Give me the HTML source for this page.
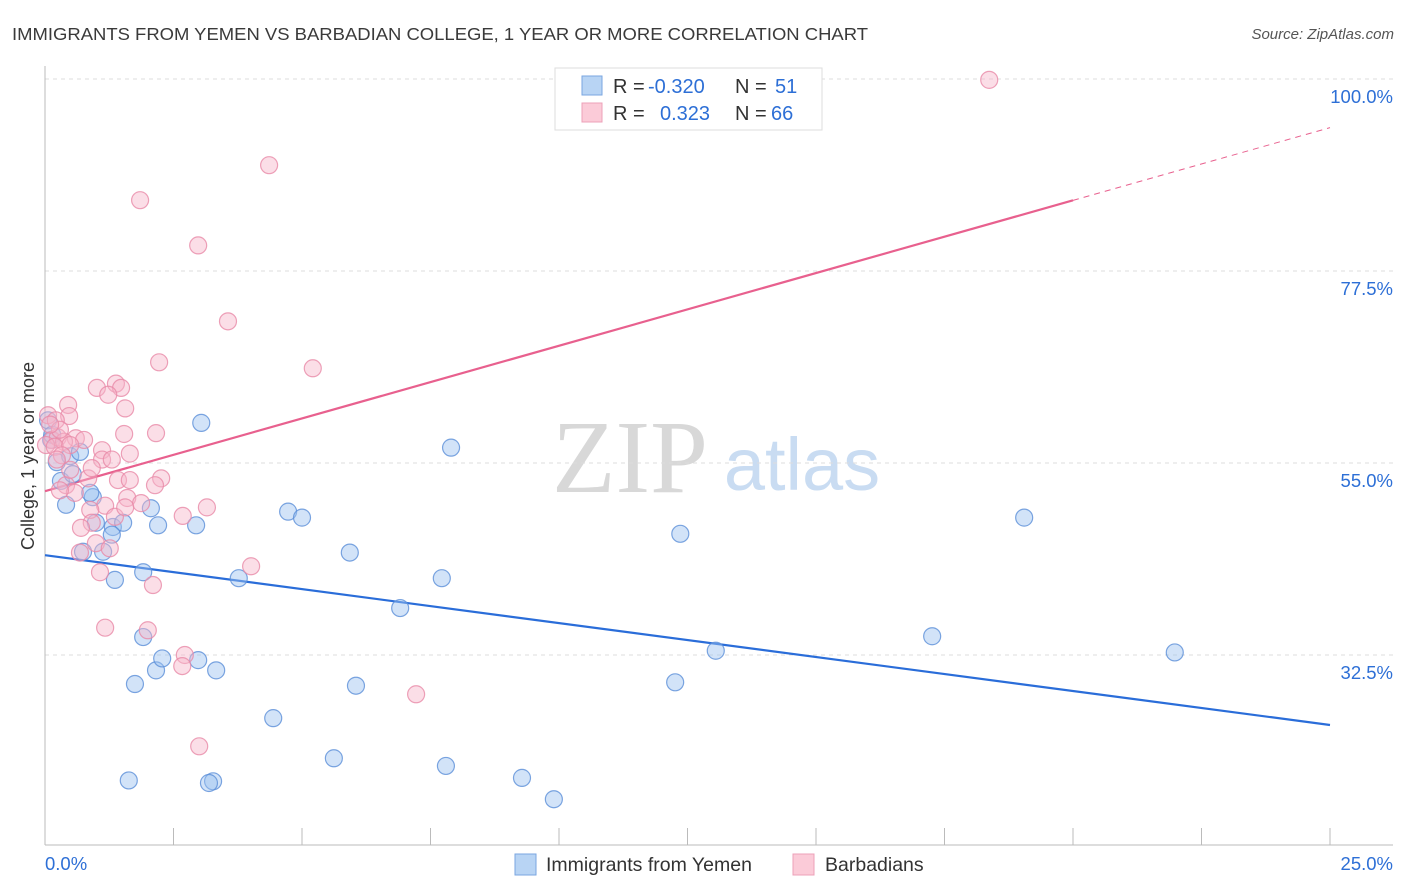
<!DOCTYPE html>
<html><head><meta charset="utf-8"><style>
body{margin:0;background:#fff;font-family:"Liberation Sans",sans-serif}
svg{display:block}
</style></head><body>
<svg id="chart" width="1406" height="892">
<text x="12" y="40" font-size="17.5" fill="#3a3a3a" textLength="856" lengthAdjust="spacingAndGlyphs">IMMIGRANTS FROM YEMEN VS BARBADIAN COLLEGE, 1 YEAR OR MORE CORRELATION CHART</text>
<text x="1394" y="39" font-size="15" fill="#555" font-style="italic" text-anchor="end">Source: ZipAtlas.com</text>
<g>
<text x="630" y="492" font-size="104" font-family="Liberation Serif,serif" fill="#d8d8d8" text-anchor="middle">ZIP</text>
<text x="802" y="490" font-size="74" fill="#c9dcf2" text-anchor="middle">atlas</text>
</g>
<g id="grid"></g>
<g id="axes"></g>
<g id="lines"></g>
<g id="pts"></g>
<text transform="translate(34,456) rotate(-90)" font-size="18" fill="#333" text-anchor="middle">College, 1 year or more</text>
<g>
<rect x="555" y="68" width="267" height="62" fill="#fff" stroke="#ddd"/>
<rect x="582" y="76" width="20" height="19" fill="#b8d4f4" stroke="#7aa6e0"/>
<rect x="582" y="103" width="20" height="19" fill="#fbcbd8" stroke="#eca0b8"/>
<text x="613" y="93" font-size="20" fill="#333">R = <tspan x="648" fill="#2d6fd6">-0.320</tspan></text>
<text x="735" y="93" font-size="20" fill="#333">N = <tspan x="775" fill="#2d6fd6">51</tspan></text>
<text x="613" y="120" font-size="20" fill="#333">R = <tspan x="660" fill="#2d6fd6">0.323</tspan></text>
<text x="735" y="120" font-size="20" fill="#333">N = <tspan x="771" fill="#2d6fd6">66</tspan></text>
</g>
<g>
<rect x="515" y="854" width="21" height="21" fill="#b8d4f4" stroke="#7aa6e0"/>
<text x="546" y="871" font-size="19.5" fill="#333">Immigrants from Yemen</text>
<rect x="793" y="854" width="21" height="21" fill="#fbcbd8" stroke="#eca0b8"/>
<text x="825" y="871" font-size="19.5" fill="#333">Barbadians</text>
</g>
</svg>
<script>
const blueX=[3.04,7.90,19.05,12.36,4.73,5.0,5.93,7.72,6.91,3.77,17.26,13.05,21.98,12.26,6.05,4.44,5.62,7.80,9.28,9.90,1.63,3.27,3.19,1.75,2.16,2.28,2.98,3.33,1.91,1.91,1.36,1.13,0.74,1.32,1.52,0.99,1.30,2.20,2.94,2.06,0.41,0.93,0.88,0.31,0.54,0.23,0.49,0.68,0.12,0.06,0.14];
const blueY=[59.7,56.8,48.6,46.7,49.3,48.6,44.5,41.5,38.0,41.5,34.7,33.0,32.8,29.3,28.9,25.1,20.4,19.5,18.1,15.6,17.8,17.7,17.5,29.1,30.7,32.1,31.9,30.7,34.6,42.2,41.3,44.6,44.6,47.5,48.0,48.0,46.6,47.7,47.7,49.7,50.1,51.0,51.5,52.9,53.7,55.1,55.8,56.3,57.7,60.0,58.3];
const pinkX=[18.37,4.36,1.85,2.98,3.56,5.21,2.22,1.01,1.38,1.48,1.56,0.45,0.47,0.06,1.54,2.16,0.14,0.25,0.60,0.76,0.37,0.02,0.19,1.11,1.65,1.11,1.42,2.26,0.84,0.41,0.58,1.60,2.14,2.68,3.15,1.17,0.88,1.87,1.36,1.56,0.91,0.70,0.99,1.26,0.68,4.01,1.07,2.10,1.17,2.00,2.72,2.67,7.22,3.00,0.21,0.29,0.49,0.91,0.29,1.65,1.30,0.49,1.23,0.33,0.23,0.10];
const pinkY=[99.9,89.9,85.8,80.5,71.6,66.1,66.8,63.8,64.3,63.8,61.4,61.8,60.5,60.6,58.4,58.5,57.7,58.0,57.9,57.7,57.5,57.1,56.9,56.5,56.1,55.4,53.0,53.2,53.2,52.4,51.5,50.9,52.4,48.8,49.8,50.0,49.5,50.3,48.7,49.8,48.0,47.4,45.6,45.0,44.5,42.9,42.2,40.7,35.7,35.4,32.5,31.2,27.9,21.8,60.0,58.9,57.1,54.4,51.8,53.0,55.4,54.2,63.0,55.9,55.4,59.5];
const blueTrend=[44.2,24.3];
const pinkTrend=[51.7,94.3];
const pinkSolidEnd=20.0;
const yTicks=[100,77.5,55,32.5];
const yTickLabels=["100.0%","77.5%","55.0%","32.5%"];
const xTicks=[0,2.5,5,7.5,10,12.5,15,17.5,20,22.5,25];

const NS="http://www.w3.org/2000/svg";
const X=v=>45+v/25*1285;
const Y=v=>79+(100-v)*192/22.5;
function mk(tag,attrs,parent){const e=document.createElementNS(NS,tag);for(const k in attrs)e.setAttribute(k,attrs[k]);parent.appendChild(e);return e;}
const grid=document.getElementById('grid'),axes=document.getElementById('axes'),lines=document.getElementById('lines'),pts=document.getElementById('pts');
yTicks.forEach((t,i)=>{
  const l=mk('line',{x1:45,x2:1393,y1:Y(t),y2:Y(t),stroke:'#ddd','stroke-dasharray':'4,4'},grid);
  
  
  const tx=mk('text',{x:1393,y:Y(t)+24,'font-size':18.5,fill:'#2d6fd6','text-anchor':'end'},axes);
  tx.textContent=yTickLabels[i];
  
  
});
const ya=mk('line',{x1:45,x2:45,y1:66,y2:845,stroke:'#bbb'},axes);


const xa=mk('line',{x1:45,x2:1393,y1:845,y2:845,stroke:'#bbb'},axes);


xTicks.forEach(t=>{
  const l=mk('line',{x1:X(t),x2:X(t),y1:828,y2:845,stroke:'#bbb'},axes);
  
  
});
[[0,"0.0%","start",45],[25,"25.0%","end",1393]].forEach(a=>{
  const tx=mk('text',{x:a[3],y:870,'font-size':18.5,fill:'#2d6fd6','text-anchor':a[2]},axes);
  tx.textContent=a[1];
  
  
});
function drawPts(xs,ys,fill,stroke,name){
  xs.forEach((x,i)=>{
    const c=mk('circle',{cx:X(x),cy:Y(ys[i]),r:8.5,fill:fill,'fill-opacity':0.45,stroke:stroke,'stroke-opacity':0.8,'stroke-width':1.2},pts);
    
    
  });
}
drawPts(blueX,blueY,'#9cc2ef','#5b8fd8','point-yemen');
drawPts(pinkX,pinkY,'#f7b6c9','#e98aa8','point-barbadians');
const bl=mk('line',{x1:X(0),y1:Y(blueTrend[0]),x2:X(25),y2:Y(blueTrend[1]),stroke:'#2a6dd9','stroke-width':2.2},lines);


const py=x=>pinkTrend[0]+(pinkTrend[1]-pinkTrend[0])*x/25;
const pl=mk('line',{x1:X(0),y1:Y(py(0)),x2:X(pinkSolidEnd),y2:Y(py(pinkSolidEnd)),stroke:'#e8608e','stroke-width':2.2},lines);


const pd=mk('line',{x1:X(pinkSolidEnd),y1:Y(py(pinkSolidEnd)),x2:X(25),y2:Y(py(25)),stroke:'#e8608e','stroke-width':1,'stroke-dasharray':'6,5'},lines);


</script>
</body></html>
